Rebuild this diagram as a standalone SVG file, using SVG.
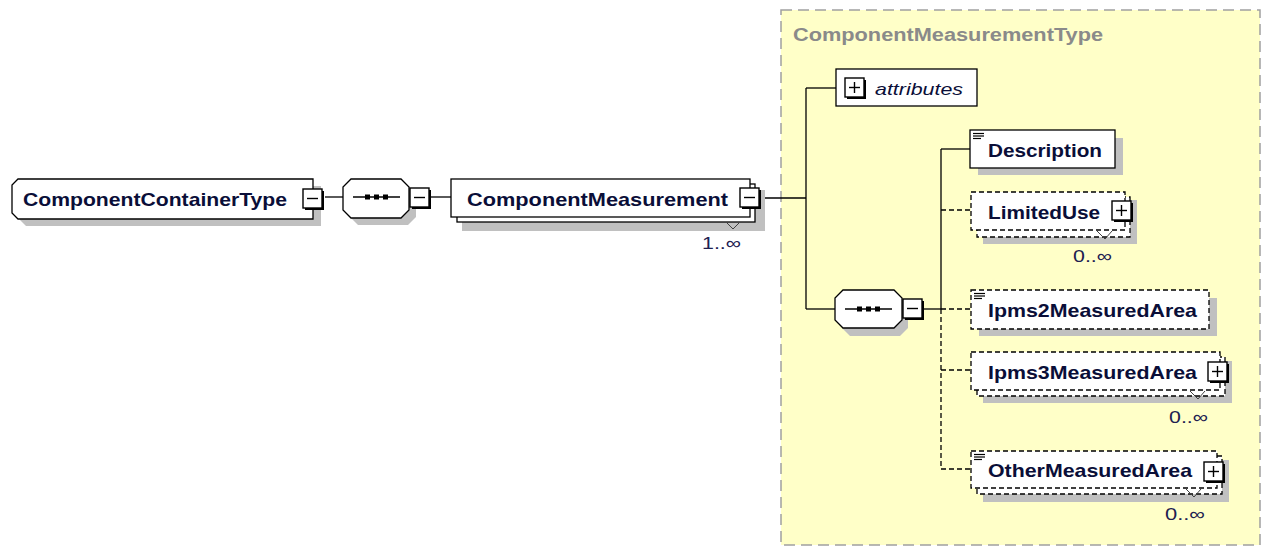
<svg xmlns="http://www.w3.org/2000/svg" xmlns:xlink="http://www.w3.org/1999/xlink" width="1263" height="546" viewBox="0 0 1263 546">
<style>
.bg{fill:#ffffff}
.grp{fill:#ffffc8;stroke:#a0a0a0;stroke-width:1.5;stroke-dasharray:11 6}
.shadow{fill:#c0c0c0}
.box{fill:#ffffff;stroke:#000000;stroke-width:1.3}
.dbox{fill:#ffffff;stroke:#000000;stroke-width:1.3;stroke-dasharray:5 3}
.line{stroke:#000000;stroke-width:1.3;fill:none}
.dline{stroke:#000000;stroke-width:1.3;fill:none;stroke-dasharray:5 3}
.lbl{font-family:"Liberation Sans",Arial,sans-serif;font-weight:bold;font-size:19px;fill:#0a0e38}
.title{font-family:"Liberation Sans",Arial,sans-serif;font-weight:bold;font-size:18px;fill:#8a8a8a}
.attr{font-family:"Liberation Sans",Arial,sans-serif;font-style:italic;font-size:17px;fill:#0a0e38}
.mult{font-family:"Liberation Sans",Arial,sans-serif;font-size:17px;fill:#202050}
.tick{stroke:#404040;stroke-width:1;fill:none}
</style>
<defs>
<g id="minus"><rect x="2" y="2" width="19" height="19" fill="#000"/><rect x="0" y="0" width="19" height="19" fill="#fff" stroke="#000" stroke-width="1.4"/><line x1="4" y1="9.5" x2="15" y2="9.5" stroke="#000" stroke-width="1.4"/></g>
<g id="plus"><rect x="2" y="2" width="19" height="19" fill="#000"/><rect x="0" y="0" width="19" height="19" fill="#fff" stroke="#000" stroke-width="1.4"/><line x1="4" y1="9.5" x2="15" y2="9.5" stroke="#000" stroke-width="1.4"/><line x1="9.5" y1="4" x2="9.5" y2="15" stroke="#000" stroke-width="1.4"/></g>
<g id="doc"><line x1="0" y1="0.5" x2="11" y2="0.5" stroke="#000" stroke-width="1.2"/><line x1="0" y1="3" x2="11" y2="3" stroke="#000" stroke-width="1.2"/><line x1="0" y1="5.5" x2="8" y2="5.5" stroke="#000" stroke-width="1.2"/></g>
<g id="seqicon"><line x1="0" y1="0" x2="47" y2="0" stroke="#000" stroke-width="1.4"/><rect x="12" y="-2.5" width="5" height="5" fill="#000"/><rect x="21" y="-2.5" width="5" height="5" fill="#000"/><rect x="30" y="-2.5" width="5" height="5" fill="#000"/></g>
</defs>
<rect class="bg" x="0" y="0" width="1263" height="546"/>

<g id="ComponentMeasurementType">
<rect class="grp" x="781" y="10" width="479" height="535"/>
<text class="title" x="793" y="41" textLength="310" lengthAdjust="spacingAndGlyphs">ComponentMeasurementType</text>
</g>

<g id="connectors">
<line class="line" x1="325" y1="197" x2="343" y2="197"/>
<line class="line" x1="430" y1="197" x2="451" y2="197"/>
<line class="line" x1="760" y1="198" x2="806" y2="198"/>
<line class="line" x1="806" y1="88" x2="806" y2="309"/>
<line class="line" x1="806" y1="88" x2="836" y2="88"/>
<line class="line" x1="806" y1="309" x2="835" y2="309"/>
<line class="line" x1="923" y1="309" x2="941" y2="309"/>
<line class="line" x1="941" y1="149" x2="941" y2="309"/>
<line class="dline" x1="941" y1="309" x2="941" y2="469"/>
<line class="line" x1="941" y1="149" x2="970" y2="149"/>
<line class="dline" x1="941" y1="210" x2="971" y2="210"/>
<line class="dline" x1="941" y1="309" x2="971" y2="309"/>
<line class="dline" x1="941" y1="370" x2="971" y2="370"/>
<line class="dline" x1="941" y1="469" x2="971" y2="469"/>
</g>

<g id="ComponentContainerType">
<polygon class="shadow" points="26,186 321,186 321,226 26,226 20,220 20,192"/>
<polygon class="box" points="18,179 313,179 313,219 18,219 12,213 12,185"/>
<text class="lbl" x="23" y="206" textLength="264" lengthAdjust="spacingAndGlyphs">ComponentContainerType</text>
<use xlink:href="#minus" x="303" y="189"/>
</g>

<g id="sequence1">
<polygon class="shadow" points="358,186 408,186 416,194 416,217 408,225 358,225 350,217 350,194"/>
<polygon class="box" points="351,179 401,179 409,187 409,210 401,218 351,218 343,210 343,187"/>
<use xlink:href="#seqicon" x="353" y="197"/>
<use xlink:href="#minus" x="410" y="188"/>
</g>

<g id="ComponentMeasurement">
<rect class="shadow" x="462" y="190" width="303" height="41"/>
<rect class="box" x="457" y="184" width="298" height="38"/>
<rect class="box" x="451" y="179" width="299" height="38"/>
<text class="lbl" x="467" y="206" textLength="261" lengthAdjust="spacingAndGlyphs">ComponentMeasurement</text>
<use xlink:href="#minus" x="740" y="188"/>
<polyline class="tick" points="726,222 733,229 740,222"/>
<text class="mult" x="702" y="249" textLength="39" lengthAdjust="spacingAndGlyphs">1..∞</text>
</g>

<g id="attributes">
<rect class="box" x="836" y="69" width="141" height="37"/>
<use xlink:href="#plus" x="845" y="78"/>
<text class="attr" x="875" y="95" textLength="88" lengthAdjust="spacingAndGlyphs">attributes</text>
</g>

<g id="sequence2">
<polygon class="shadow" points="850,297 900,297 908,305 908,328 900,336 850,336 842,328 842,305"/>
<polygon class="box" points="843,290 894,290 902,298 902,320 894,328 843,328 835,320 835,298"/>
<use xlink:href="#seqicon" x="845" y="309"/>
<use xlink:href="#minus" x="903" y="299"/>
</g>

<g id="Description">
<rect class="shadow" x="978" y="138" width="145" height="37"/>
<rect class="box" x="970" y="130" width="145" height="38"/>
<use xlink:href="#doc" x="973" y="133"/>
<text class="lbl" x="988" y="157" textLength="114" lengthAdjust="spacingAndGlyphs">Description</text>
</g>

<g id="LimitedUse">
<rect class="shadow" x="983" y="200" width="154" height="44"/>
<rect class="dbox" x="977" y="197" width="153" height="40"/>
<rect class="dbox" x="971" y="192" width="154" height="38"/>
<text class="lbl" x="988" y="219" textLength="112" lengthAdjust="spacingAndGlyphs">LimitedUse</text>
<use xlink:href="#plus" x="1112" y="201"/>
<polyline class="tick" points="1097,231 1105,239 1112,231"/>
<text class="mult" x="1073" y="262" textLength="39" lengthAdjust="spacingAndGlyphs">0..∞</text>
</g>

<g id="Ipms2MeasuredArea">
<rect class="shadow" x="979" y="298" width="238" height="38"/>
<rect class="dbox" x="971" y="290" width="238" height="39"/>
<use xlink:href="#doc" x="974" y="293"/>
<text class="lbl" x="988" y="317" textLength="209" lengthAdjust="spacingAndGlyphs">Ipms2MeasuredArea</text>
</g>

<g id="Ipms3MeasuredArea">
<rect class="shadow" x="983" y="361" width="249" height="42"/>
<rect class="dbox" x="977" y="357" width="248" height="39"/>
<rect class="dbox" x="971" y="352" width="249" height="38"/>
<text class="lbl" x="988" y="379" textLength="209" lengthAdjust="spacingAndGlyphs">Ipms3MeasuredArea</text>
<use xlink:href="#plus" x="1208" y="362"/>
<polyline class="tick" points="1190,391 1198,399 1205,391"/>
<text class="mult" x="1169" y="423" textLength="39" lengthAdjust="spacingAndGlyphs">0..∞</text>
</g>

<g id="OtherMeasuredArea">
<rect class="shadow" x="983" y="460" width="246" height="42"/>
<rect class="dbox" x="977" y="456" width="245" height="38"/>
<rect class="dbox" x="971" y="451" width="246" height="37"/>
<use xlink:href="#doc" x="974" y="454"/>
<text class="lbl" x="988" y="477" textLength="204" lengthAdjust="spacingAndGlyphs">OtherMeasuredArea</text>
<use xlink:href="#plus" x="1204" y="462"/>
<polyline class="tick" points="1186,489 1194,497 1201,489"/>
<text class="mult" x="1165" y="520" textLength="40" lengthAdjust="spacingAndGlyphs">0..∞</text>
</g>
</svg>
